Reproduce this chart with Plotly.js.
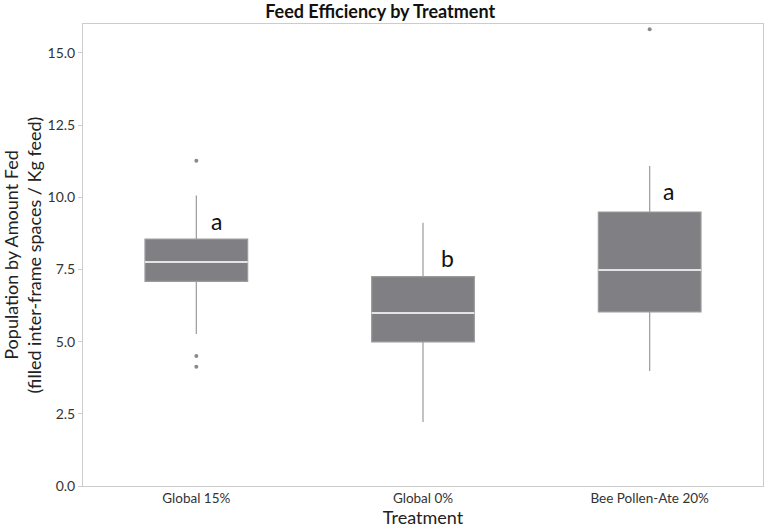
<!DOCTYPE html>
<html>
<head>
<meta charset="utf-8">
<script src="https://cdn.plot.ly/plotly-3.0.1.min.js"></script>
<style>html,body{margin:0;padding:0;background:#fff;}#chart{width:768px;height:530px;}</style>
</head>
<body>
<div id="chart"></div>
<script>
const treatments = ["Global 15%", "Global 0%", "Bee Pollen-Ate 20%"];
const q1 = [7.09, 4.99, 6.03];
const medians = [7.76, 5.99, 7.48];
const q3 = [8.55, 7.25, 9.49];
const lowerFence = [5.26, 2.22, 3.98];
const upperFence = [10.06, 9.12, 11.08];
const outlierX = ["Global 15%", "Global 15%", "Global 15%", "Bee Pollen-Ate 20%"];
const outlierY = [11.26, 4.50, 4.13, 15.82];
const letters = ["a", "b", "a"];
const letterY = [9.18, 7.9, 10.22];

const FONT = "Lato, 'Open Sans', sans-serif";
const boxHalf = 0.2265;

const traces = [
  {
    type: "box",
    x: treatments,
    q1: q1, median: medians, q3: q3,
    lowerfence: lowerFence, upperfence: upperFence,
    fillcolor: "#808084",
    line: {color: "#9b9b9b", width: 1.2},
    whiskerwidth: 0,
    hoverinfo: "skip",
    showlegend: false
  },
  {
    type: "scatter",
    mode: "markers",
    x: outlierX, y: outlierY,
    marker: {color: "#8a8a8a", size: 4},
    showlegend: false,
    hoverinfo: "skip"
  }
];

const shapes = medians.map((m, i) => ({
  type: "line", xref: "x", yref: "y",
  x0: i - boxHalf, x1: i + boxHalf, y0: m, y1: m,
  line: {color: "#ffffff", width: 1.6}
}));

const annotations = letters.map((t, i) => ({
  text: t, x: i + [0.087, 0.106, 0.085][i], y: letterY[i],
  xref: "x", yref: "y", showarrow: false,
  font: {family: FONT, size: 23, color: "#111"}
}));

const layout = {
  width: 768, height: 530,
  margin: {l: 83, r: 5, t: 24, b: 44},
  paper_bgcolor: "#fff", plot_bgcolor: "#fff",
  title: {text: "<b>Feed Efficiency by Treatment</b>", x: 0.495, xanchor: "center", y: 0.977, yanchor: "middle",
          font: {family: FONT, size: 18, color: "#111"}},
  boxgap: 0.547,
  boxgroupgap: 0,
  xaxis: {
    type: "category", range: [-0.5, 2.5],
    showline: true, linecolor: "#cccccc", linewidth: 1, mirror: true,
    showgrid: false, zeroline: false, ticks: "",
    tickfont: {family: FONT, size: 13.5, color: "#333"},
    title: {text: "Treatment", font: {family: FONT, size: 18, color: "#222"}, standoff: 6}
  },
  yaxis: {
    range: [0, 16], tickvals: [0, 2.5, 5, 7.5, 10, 12.5, 15],
    ticktext: ["0.0", "2.5", "5.0", "7.5", "10.0", "12.5", "15.0"],
    showline: true, linecolor: "#cccccc", linewidth: 1, mirror: true,
    showgrid: false, zeroline: false, ticks: "outside", ticklen: 4, tickcolor: "#cccccc",
    tickfont: {family: FONT, size: 14, color: "#333"},
    title: {text: "Population by Amount Fed<br>(filled inter-frame spaces / Kg feed)",
            font: {family: FONT, size: 18, color: "#222"}, standoff: 8}
  },
  shapes: shapes,
  annotations: annotations
};

Plotly.newPlot("chart", traces, layout, {displayModeBar: false, staticPlot: true});
</script>
</body>
</html>
